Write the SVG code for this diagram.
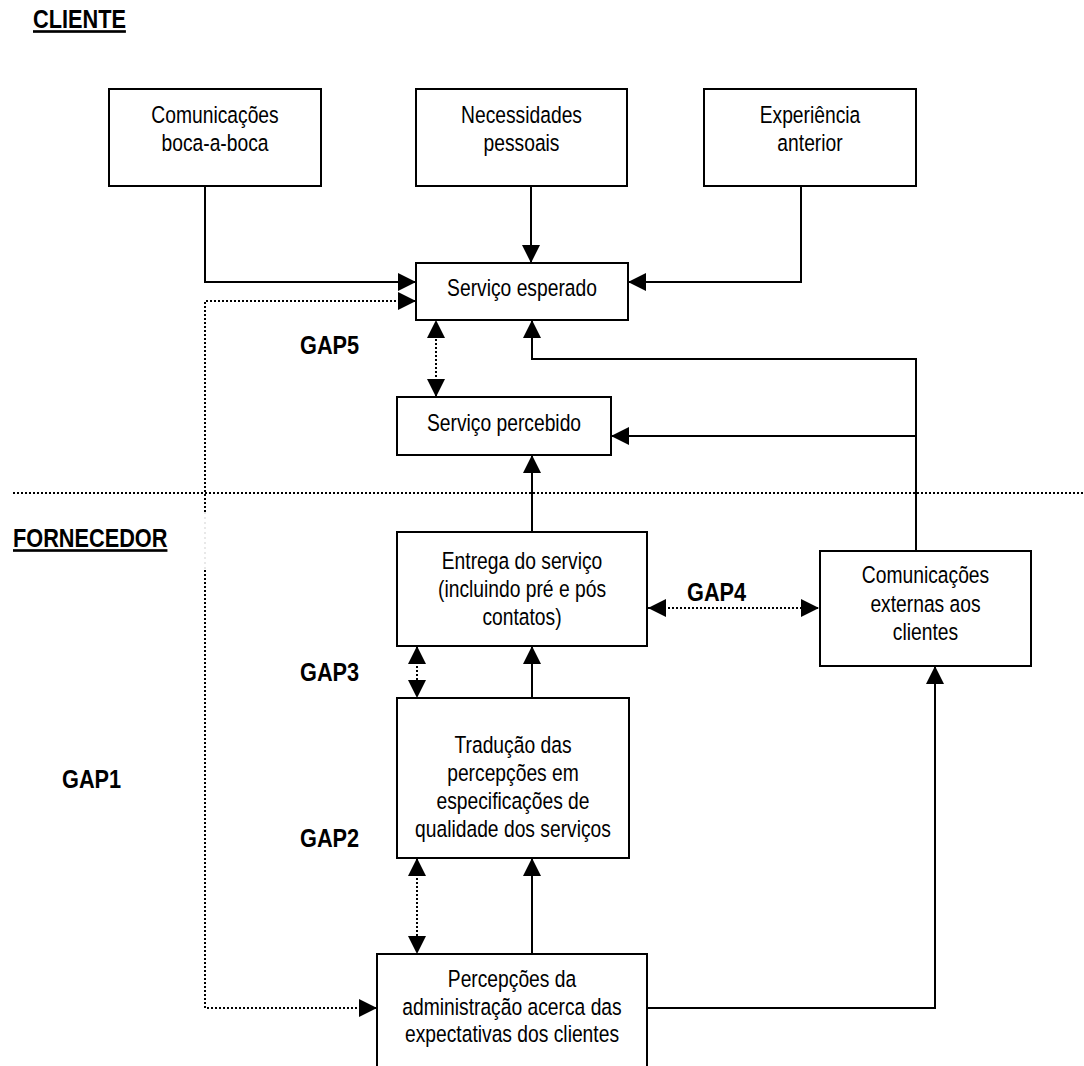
<svg xmlns="http://www.w3.org/2000/svg" width="1084" height="1066" viewBox="0 0 1084 1066">
  <style>
    .box { fill: #ffffff; stroke: #000000; stroke-width: 2; }
    .txt { font-family: "Liberation Sans", Arial, sans-serif; font-size: 23.5px; fill: #000000; text-anchor: middle; }
    .lbl { font-family: "Liberation Sans", Arial, sans-serif; font-size: 26.5px; font-weight: bold; fill: #000000; }
    .ul { text-decoration: underline; }
    .solid { fill: none; stroke: #000000; stroke-width: 2; }
    .dot { fill: none; stroke: #000000; stroke-width: 2; stroke-dasharray: 2 2; }
    .faint { fill: none; stroke: #d9d9d9; stroke-width: 1.2; stroke-dasharray: 2 3; }
  </style>
  <defs>
    <marker id="arrow" viewBox="0 0 10 10" refX="10" refY="5" markerUnits="userSpaceOnUse" markerWidth="19" markerHeight="18" orient="auto-start-reverse">
      <path d="M0,0 L10,5 L0,10 z" fill="#000000"/>
    </marker>
  </defs>

  <rect width="1084" height="1066" fill="#ffffff"/>

  <!-- section labels (narrow face: regular face squeezed horizontally) -->
  <text class="lbl ul" transform="translate(33 0) scale(0.82 1)" x="0" y="28">CLIENTE</text>
  <text class="lbl ul" transform="translate(13 0) scale(0.82 1)" x="0" y="547">FORNECEDOR</text>

  <!-- gap labels -->
  <text class="lbl" transform="translate(300 0) scale(0.82 1)" x="0" y="354">GAP5</text>
  <text class="lbl" transform="translate(687 0) scale(0.82 1)" x="0" y="601">GAP4</text>
  <text class="lbl" transform="translate(300 0) scale(0.82 1)" x="0" y="681">GAP3</text>
  <text class="lbl" transform="translate(62 0) scale(0.82 1)" x="0" y="788">GAP1</text>
  <text class="lbl" transform="translate(300 0) scale(0.82 1)" x="0" y="847">GAP2</text>

  <!-- connectors -->
  <g id="connectors">
    <path class="dot" d="M13,493 H1084"/>
    <path class="solid" d="M205,186 V282 H416" marker-end="url(#arrow)"/>
    <path class="solid" d="M531,186 V263" marker-end="url(#arrow)"/>
    <path class="solid" d="M801,186 V282 H628" marker-end="url(#arrow)"/>
    <path class="solid" d="M916,551 V359 H532 V320" marker-end="url(#arrow)"/>
    <path class="solid" d="M916,436 H611" marker-end="url(#arrow)"/>
    <path class="dot" d="M436,397 V320" marker-start="url(#arrow)" marker-end="url(#arrow)"/>
    <path class="solid" d="M532,532 V455" marker-end="url(#arrow)"/>
    <path class="dot" d="M648,608 H819" marker-start="url(#arrow)" marker-end="url(#arrow)"/>
    <path class="dot" d="M417,646 V698" marker-start="url(#arrow)" marker-end="url(#arrow)"/>
    <path class="solid" d="M532,698 V646" marker-end="url(#arrow)"/>
    <path class="dot" d="M417,858 V954" marker-start="url(#arrow)" marker-end="url(#arrow)"/>
    <path class="solid" d="M532,954 V858" marker-end="url(#arrow)"/>
    <path class="solid" d="M647,1008 H935 V666" marker-end="url(#arrow)"/>
    <!-- GAP1 feedback path, hidden behind the supplier label for a short stretch -->
    <path class="dot" d="M205,512 V301 H416" marker-end="url(#arrow)"/>
    <path class="faint" d="M205,512 V570"/>
    <path class="dot" d="M205,570 V1008 H377" marker-end="url(#arrow)"/>
  </g>

  <g id="boca-a-boca">
    <rect class="box" x="109" y="89" width="212" height="97"/>
    <g transform="translate(215 0) scale(0.82 1)">
      <text class="txt" x="0" y="123">Comunicações</text>
      <text class="txt" x="0" y="151">boca-a-boca</text>
    </g>
  </g>
  <g id="necessidades">
    <rect class="box" x="416" y="89" width="211" height="97"/>
    <g transform="translate(521.5 0) scale(0.82 1)">
      <text class="txt" x="0" y="123">Necessidades</text>
      <text class="txt" x="0" y="151">pessoais</text>
    </g>
  </g>
  <g id="experiencia">
    <rect class="box" x="704" y="89" width="212" height="97"/>
    <g transform="translate(810 0) scale(0.82 1)">
      <text class="txt" x="0" y="123">Experiência</text>
      <text class="txt" x="0" y="151">anterior</text>
    </g>
  </g>
  <g id="servico-esperado">
    <rect class="box" x="416" y="263" width="212" height="57"/>
    <g transform="translate(522 0) scale(0.82 1)">
      <text class="txt" x="0" y="296">Serviço esperado</text>
    </g>
  </g>
  <g id="servico-percebido">
    <rect class="box" x="397" y="397" width="214" height="58"/>
    <g transform="translate(504 0) scale(0.82 1)">
      <text class="txt" x="0" y="431">Serviço percebido</text>
    </g>
  </g>
  <g id="entrega">
    <rect class="box" x="397" y="532" width="250" height="114"/>
    <g transform="translate(522 0) scale(0.82 1)">
      <text class="txt" x="0" y="569">Entrega do serviço</text>
      <text class="txt" x="0" y="597">(incluindo pré e pós</text>
      <text class="txt" x="0" y="625">contatos)</text>
    </g>
  </g>
  <g id="comunicacoes-externas">
    <rect class="box" x="820" y="551" width="211" height="115"/>
    <g transform="translate(925.5 0) scale(0.82 1)">
      <text class="txt" x="0" y="583">Comunicações</text>
      <text class="txt" x="0" y="612">externas aos</text>
      <text class="txt" x="0" y="640">clientes</text>
    </g>
  </g>
  <g id="traducao">
    <rect class="box" x="397" y="698" width="232" height="160"/>
    <g transform="translate(513 0) scale(0.82 1)">
      <text class="txt" x="0" y="753">Tradução das</text>
      <text class="txt" x="0" y="781">percepções em</text>
      <text class="txt" x="0" y="809">especificações de</text>
      <text class="txt" x="0" y="837">qualidade dos serviços</text>
    </g>
  </g>
  <g id="percepcoes-administracao">
    <rect class="box" x="377" y="954" width="270" height="130"/>
    <g transform="translate(512 0) scale(0.82 1)">
      <text class="txt" x="0" y="987">Percepções da</text>
      <text class="txt" x="0" y="1015">administração acerca das</text>
      <text class="txt" x="0" y="1042">expectativas dos clientes</text>
    </g>
  </g>
</svg>
